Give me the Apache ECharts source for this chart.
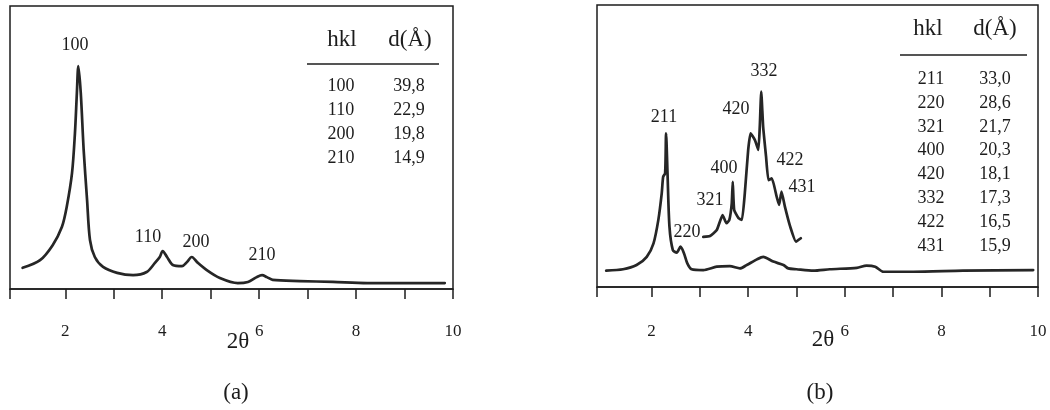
<!DOCTYPE html>
<html>
<head>
<meta charset="utf-8">
<script src="https://cdn.jsdelivr.net/npm/echarts@6/dist/echarts.min.js"></script>
<style>
  html, body { margin: 0; padding: 0; background: #fff; }
  #chart { width: 1050px; height: 410px; }
</style>
</head>
<body>
<div id="chart"></div>
<script>
// (a) pattern, 2θ in degrees, intensity in % of frame height
const xA = [1.12, 1.48, 1.74, 1.93, 2.03, 2.14, 2.20, 2.24, 2.27, 2.32, 2.38, 2.45, 2.51, 2.61, 2.78,
  3.07, 3.40, 3.68, 3.85, 3.95, 4.01, 4.10, 4.22, 4.41, 4.51, 4.61, 4.72, 4.92, 5.19, 5.56,
  5.77, 5.95, 6.06, 6.16, 6.28, 6.84, 7.52, 8.23, 9.83];
const yA = [7.5, 10.2, 15.5, 21.9, 29.0, 41.0, 55.1, 69.3, 78.8, 69.3, 49.1, 31.5, 17.3, 11.3, 7.8,
  5.7, 4.9, 6.0, 9.2, 11.3, 13.4, 11.3, 8.5, 8.1, 9.5, 11.3, 9.5, 6.7, 3.9, 2.1,
  2.5, 4.2, 4.9, 4.2, 3.2, 2.8, 2.5, 2.1, 2.1];

// (b) full pattern
const xB = [1.06, 1.41, 1.69, 1.90, 2.04, 2.14, 2.21, 2.24, 2.28, 2.30, 2.33, 2.37, 2.44, 2.52, 2.60,
  2.67, 2.74, 2.83, 3.07, 3.35, 3.62, 3.83, 3.97, 4.18, 4.31, 4.52, 4.73, 4.83, 5.00, 5.35,
  5.69, 6.25, 6.45, 6.63, 6.80, 7.42, 8.45, 9.90];
const yB = [5.8, 6.3, 7.8, 10.7, 15.5, 23.8, 33.2, 39.1, 40.3, 54.5, 40.3, 21.4, 13.1, 12.2, 14.3,
  12.0, 8.4, 6.3, 6.0, 7.2, 7.4, 6.6, 7.8, 9.8, 10.7, 9.0, 7.8, 6.6, 6.3, 5.8,
  6.3, 6.8, 7.6, 7.2, 5.4, 5.4, 5.8, 6.0];

// (b) magnified part 3-5°
const xBzoom = [3.07, 3.21, 3.35, 3.47, 3.55, 3.61, 3.66, 3.68, 3.71, 3.80, 3.87, 3.93, 4.00, 4.05, 4.14,
  4.21, 4.24, 4.27, 4.31, 4.37, 4.42, 4.49, 4.59, 4.64, 4.69, 4.76, 4.87, 4.99, 5.09];
const yBzoom = [17.8, 18.1, 20.2, 25.5, 22.6, 23.8, 29.7, 37.3, 27.3, 24.4, 23.8, 33.2, 48.6, 54.5, 52.1,
  48.6, 56.8, 69.3, 56.8, 46.2, 37.9, 38.5, 32.0, 29.1, 33.8, 28.5, 21.4, 16.1, 17.3];

const tickLabels = [2, 4, 6, 8, 10];
const tickMarks = [2, 3, 4, 5, 6, 7, 8, 9, 10];

const hklA = ["100", "110", "200", "210"];
const dA = ["39,8", "22,9", "19,8", "14,9"];
const hklB = ["211", "220", "321", "400", "420", "332", "422", "431"];
const dB = ["33,0", "28,6", "21,7", "20,3", "18,1", "17,3", "16,5", "15,9"];

// peak label spots, px
const peakLabelsA = [["100", 75, 45], ["110", 148, 237], ["200", 196, 242], ["210", 262, 255]];
const peakLabelsB = [["211", 664, 117], ["220", 687, 232], ["321", 710, 200], ["400", 724, 168],
  ["420", 736, 109], ["332", 764, 71], ["422", 790, 160], ["431", 802, 187]];

const zip = (xs, ys) => xs.map((x, i) => [x, ys[i]]);

const INK = "#1c1c1c";
const SERIF = "'Liberation Serif', 'Times New Roman', serif";

function txt(text, x, y, size) {
  return {
    type: "text",
    x, y,
    style: { text, fill: INK, font: `${size}px ${SERIF}`, align: "center", verticalAlign: "middle" },
  };
}

function tableGraphics(hkl, d, colHkl, colD, headY, headHkl, headD, lineX1, lineX2, lineY, rowY, rowStep) {
  const out = [
    txt("hkl", headHkl, headY, 23),
    txt("d(Å)", headD, headY, 23),
    { type: "line", shape: { x1: lineX1, y1: lineY, x2: lineX2, y2: lineY }, style: { stroke: INK, lineWidth: 1.6 } },
  ];
  hkl.forEach((h, i) => {
    out.push(txt(h, colHkl, rowY + i * rowStep, 18));
    out.push(txt(d[i], colD, rowY + i * rowStep, 18));
  });
  return out;
}

function xAxisFor(gridIndex, min, margin) {
  return {
    gridIndex,
    type: "value",
    min,
    max: 10,
    axisLine: { show: true, lineStyle: { color: INK, width: 1.5 } },
    axisTick: { show: true, inside: false, length: 10, customValues: [min].concat(tickMarks), lineStyle: { color: INK, width: 1.5 } },
    axisLabel: { customValues: tickLabels, margin, fontFamily: SERIF, fontSize: 17, color: INK },
    splitLine: { show: false },
  };
}

const chart = echarts.init(document.getElementById("chart"));

const lineStyle = { color: "#262626", width: 2.7, join: "round", cap: "round" };
const frame = { show: true, borderColor: INK, borderWidth: 1.5, backgroundColor: "transparent" };

chart.setOption({
  animation: false,
  backgroundColor: "#fff",
  grid: [
    Object.assign({ left: 10, top: 6, width: 443, height: 283 }, frame),
    Object.assign({ left: 597, top: 5, width: 441, height: 282 }, frame),
  ],
  xAxis: [xAxisFor(0, 0.86, 34), xAxisFor(1, 0.87, 36)],
  yAxis: [
    { gridIndex: 0, type: "value", min: 0, max: 100, show: false },
    { gridIndex: 1, type: "value", min: 0, max: 100, show: false },
  ],
  series: [
    { type: "line", xAxisIndex: 0, yAxisIndex: 0, data: zip(xA, yA), showSymbol: false, smooth: 0.3, lineStyle },
    { type: "line", xAxisIndex: 1, yAxisIndex: 1, data: zip(xB, yB), showSymbol: false, smooth: 0.25, lineStyle },
    { type: "line", xAxisIndex: 1, yAxisIndex: 1, data: zip(xBzoom, yBzoom), showSymbol: false, smooth: 0.15, lineStyle },
  ],
  graphic: [].concat(
    peakLabelsA.map(([t, x, y]) => txt(t, x, y, 18)),
    peakLabelsB.map(([t, x, y]) => txt(t, x, y, 18)),
    tableGraphics(hklA, dA, 341, 409, 40, 342, 410, 307, 439, 64, 86, 24),
    tableGraphics(hklB, dB, 931, 995, 29, 928, 995, 900, 1027, 55, 79, 23.9),
    [
      txt("2θ", 238, 342, 23),
      txt("2θ", 823, 340, 23),
      txt("(a)", 236, 393, 23),
      txt("(b)", 820, 393, 23),
    ]
  ),
});
</script>
</body>
</html>
